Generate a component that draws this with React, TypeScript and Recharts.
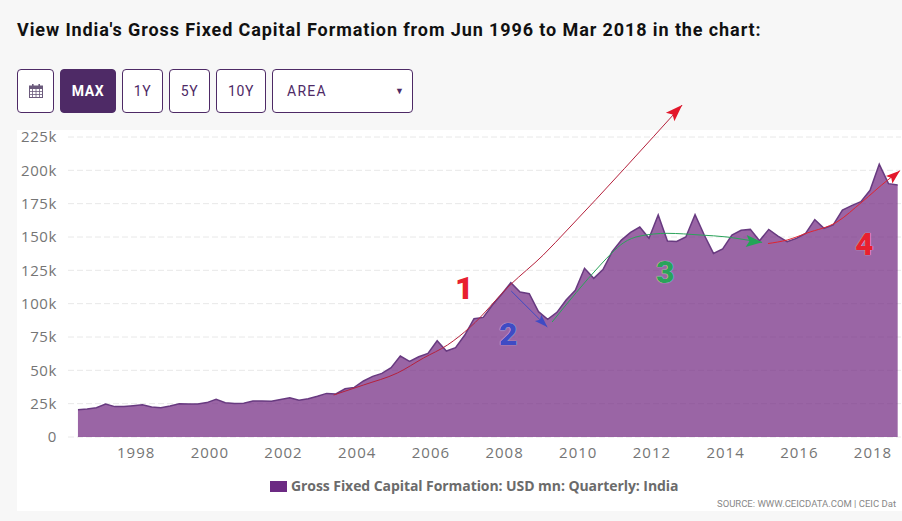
import { Area, CartesianGrid, ComposedChart, Line, XAxis, YAxis } from 'recharts';

const SERIES_NAME = 'Gross Fixed Capital Formation: USD mn: Quarterly: India';

// quarterly values, Jun 1996 onwards (USD mn)
const capitalFormation = [
  20500, 21000, 22000, 24700, 22800, 22800, 23500, 24200, 22500, 22000,
  23300, 25000, 24800, 24800, 25800, 28200, 25700, 25200, 25400, 27000,
  27000, 26800, 28200, 29500, 27500, 28700, 30500, 32700, 32300, 36200,
  37200, 42000, 45500, 47700, 52000, 60700, 56700, 60200, 62700, 72200,
  64500, 67000, 76500, 88700, 89700, 99000, 107000, 115700, 108700, 107500,
  94000, 88300, 93500, 102700, 110000, 126500, 119000, 125500, 139000, 147700,
  153500, 157500, 149000, 166500, 147000, 146700, 150000, 166700, 151500, 137700,
  141000, 151500, 155000, 155700, 147200, 155700, 150700, 146500, 149000, 152700,
  163000, 156500, 159000, 170200, 173500, 176500, 185000, 204500, 190000, 189000,
];
const FIRST_QUARTER = 1996.42;

const yearTicks = [1998, 2000, 2002, 2004, 2006, 2008, 2010, 2012, 2014, 2016, 2018];
const valueTicks = [0, 25000, 50000, 75000, 100000, 125000, 150000, 175000, 200000, 225000];

// hand-drawn arrows on top of the chart: [year, value]
const arrowOne = [
  [2003.36, 31500], [2004.17, 39000], [2005.09, 48000], [2005.8, 59250], [2006.45, 69000],
  [2007.07, 82500], [2008.15, 114000], [2009.05, 136500], [2009.7, 155250], [2012.82, 249000],
];
const arrowTwo = [[2008.18, 109500], [2009.16, 82500]];
const arrowThree = [
  [2009.29, 86250], [2010.6, 129000], [2010.91, 138000], [2011.22, 145500], [2011.68, 150750],
  [2012.41, 152750], [2013.31, 151500], [2014.04, 150000], [2014.58, 147750], [2014.99, 146000],
];
const arrowFour = [
  [2015.15, 145100], [2015.67, 147750], [2016.21, 153000], [2017.02, 161250],
  [2017.7, 176250], [2018.4, 192750], [2018.73, 199700],
];

const chartData = capitalFormation.map((value, i) => ({ x: FIRST_QUARTER + i * 0.25, value }));
const toPoints = (pairs: number[][]) => pairs.map(([x, v]) => ({ x, v }));

const PURPLE = '#4e2a66';

const formatValue = (v: number) => (v === 0 ? '0' : `${v / 1000}k`);

// arrowhead drawn on the last point of an annotation line
function arrowDot(lastIndex: number, angle: number, length: number, width: number, color: string) {
  return (props: any) => {
    const { cx, cy, index } = props;
    if (index !== lastIndex) return <g key={index} />;
    const points = `0,0 ${-length},${width / 2} ${-length * 0.8},0 ${-length},${-width / 2}`;
    return <polygon key={index} points={points} fill={color} transform={`translate(${cx},${cy}) rotate(${angle})`} />;
  };
}

function Button({ left, width, active, children }: any) {
  return (
    <div
      style={{
        position: 'absolute', left, top: 69, width, height: 44, boxSizing: 'border-box',
        border: `1px solid ${PURPLE}`, borderRadius: 4,
        background: active ? PURPLE : '#fff', color: active ? '#fff' : PURPLE,
        font: `${active ? 700 : 400} 14px Roboto`, letterSpacing: 0.6,
        display: 'flex', alignItems: 'center', justifyContent: 'center',
      }}
    >
      {children}
    </div>
  );
}

function Note({ left, top, color, children }: any) {
  return (
    <span
      style={{
        position: 'absolute', left, top, color, font: '900 32px Roboto', lineHeight: '32px',
        textShadow: '0 0 1px #fff',
      }}
    >
      {children}
    </span>
  );
}

export default function App() {
  return (
    <div style={{ position: 'absolute', left: 0, top: 0, width: 902, height: 521, overflow: 'hidden', background: '#f7f7f7' }}>
      <div style={{ position: 'absolute', left: 17, top: 19, font: '700 18px Roboto', letterSpacing: 0.9, color: '#111', whiteSpace: 'nowrap' }}>
        View India's Gross Fixed Capital Formation from Jun 1996 to Mar 2018 in the chart:
      </div>

      <Button left={17} width={37}>
        <svg width="14" height="14" viewBox="0 0 14 14">
          <rect x="0.5" y="2" width="13" height="11.5" fill="none" stroke="#6b5a7c" />
          <rect x="0.5" y="2" width="13" height="3" fill="#6b5a7c" />
          <path d="M0 7.5H14M0 10.5H14M3.5 5V14M7 5V14M10.5 5V14" stroke="#6b5a7c" strokeWidth="0.8" />
          <rect x="3" y="0" width="1.6" height="3" fill="#6b5a7c" />
          <rect x="9.4" y="0" width="1.6" height="3" fill="#6b5a7c" />
        </svg>
      </Button>
      <Button left={60} width={56} active>MAX</Button>
      <Button left={122} width={41}>1Y</Button>
      <Button left={169} width={41}>5Y</Button>
      <Button left={216} width={50}>10Y</Button>
      <div
        style={{
          position: 'absolute', left: 272, top: 69, width: 141, height: 44, boxSizing: 'border-box',
          border: `1px solid ${PURPLE}`, borderRadius: 4, background: '#fff', color: PURPLE,
          font: '400 14px Roboto', letterSpacing: 1.3, lineHeight: '42px', paddingLeft: 14,
        }}
      >
        AREA
        <span style={{ position: 'absolute', right: 8, top: 0, fontSize: 9, letterSpacing: 0 }}>▼</span>
      </div>

      <div style={{ position: 'absolute', left: 17, top: 130, width: 885, height: 381, background: '#fff' }} />

      <div style={{ position: 'absolute', left: 0, top: 0 }}>
        <ComposedChart
          width={902}
          height={521}
          data={chartData}
          margin={{ top: 97, right: 1, bottom: 0, left: 0 }}
          style={{ background: 'transparent' }}
        >
          <CartesianGrid vertical={false} stroke="#e8e8e8" strokeDasharray="6 3" horizontalValues={valueTicks} />
          <XAxis
            dataKey="x"
            type="number"
            domain={[1996.15, 2018.76]}
            ticks={yearTicks}
            interval={0}
            height={84}
            axisLine={false}
            tickLine={false}
            tickSize={0}
            tickMargin={10}
            tick={{ fill: '#757575', fontSize: 15, fontFamily: 'Open Sans', letterSpacing: 1 }}
          />
          <YAxis
            type="number"
            domain={[0, 255000]}
            ticks={valueTicks}
            interval={0}
            width={68}
            axisLine={false}
            tickLine={false}
            tickSize={0}
            tickMargin={11}
            tickFormatter={formatValue}
            tick={{ fill: '#757575', fontSize: 15, fontFamily: 'Open Sans', letterSpacing: 0.6 }}
          />
          <Area
            dataKey="value"
            type="linear"
            fill="#732a82"
            fillOpacity={0.72}
            stroke="#683a80"
            strokeWidth={1.5}
            dot={false}
            activeDot={false}
            isAnimationActive={false}
          />
          <Line
            data={toPoints(arrowOne)}
            dataKey="v"
            type="monotone"
            stroke="#b5213c"
            strokeWidth={1}
            dot={arrowDot(arrowOne.length - 1, -45, 17, 12, '#e3172b')}
            activeDot={false}
            legendType="none"
            isAnimationActive={false}
          />
          <Line
            data={toPoints(arrowTwo)}
            dataKey="v"
            type="linear"
            stroke="#3f4bc4"
            strokeWidth={1}
            dot={arrowDot(arrowTwo.length - 1, 45, 13, 9, '#3f4bc4')}
            activeDot={false}
            legendType="none"
            isAnimationActive={false}
          />
          <Line
            data={toPoints(arrowThree)}
            dataKey="v"
            type="monotone"
            stroke="#2aa35a"
            strokeWidth={1}
            dot={arrowDot(arrowThree.length - 1, 5, 16, 12, '#22a556')}
            activeDot={false}
            legendType="none"
            isAnimationActive={false}
          />
          <Line
            data={toPoints(arrowFour)}
            dataKey="v"
            type="monotone"
            stroke="#e0242f"
            strokeWidth={1}
            dot={arrowDot(arrowFour.length - 1, -40, 14, 10, '#e3172b')}
            activeDot={false}
            legendType="none"
            isAnimationActive={false}
          />
        </ComposedChart>
      </div>

      <Note left={455} top={272} color="#e8202f">1</Note>
      <Note left={499} top={318} color="#3f4bc4">2</Note>
      <Note left={656} top={256} color="#2aa35a">3</Note>
      <Note left={855} top={228} color="#e8202f">4</Note>

      <div style={{ position: 'absolute', left: 270, top: 481, width: 17, height: 11, background: '#6c2a83' }} />
      <div style={{ position: 'absolute', left: 291, top: 477, font: '700 14px "Open Sans"', lineHeight: '18px', letterSpacing: -0.07, color: '#6b6b6b', whiteSpace: 'nowrap' }}>
        {SERIES_NAME}
      </div>
      <div style={{ position: 'absolute', left: 717, top: 498, font: '400 9.5px Roboto', lineHeight: '12px', color: '#888', whiteSpace: 'nowrap' }}>
        SOURCE: WWW.CEICDATA.COM | CEIC Dat
      </div>
    </div>
  );
}
